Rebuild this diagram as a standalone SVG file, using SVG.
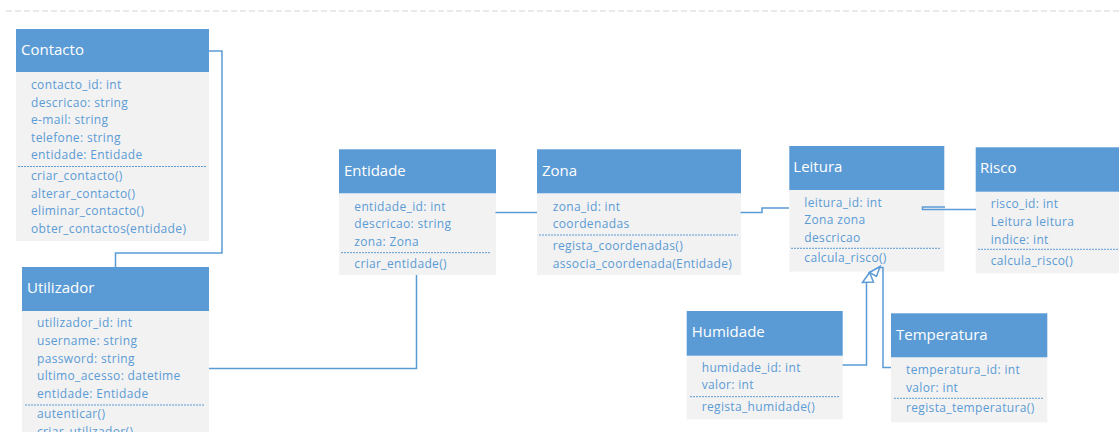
<svg xmlns="http://www.w3.org/2000/svg" width="1119" height="432" viewBox="0 0 1119 432">
  <style>
    .hd { fill: #5b9bd5; }
    .bd { fill: #f2f2f2; }
    .ttl { font-family: "Open Sans", "Noto Sans", sans-serif; font-size: 15px; fill: #ffffff; }
    .tx { font-family: "Open Sans", "Noto Sans", sans-serif; font-size: 12px; letter-spacing: 0.35px; fill: #5b9bd5; }
    .sep { stroke: #5b9bd5; stroke-width: 1; stroke-dasharray: 2 1; fill: none; }
    .cn { stroke: #5b9bd5; stroke-width: 1.5; fill: none; }
    .tri { stroke: #5b9bd5; stroke-width: 1.5; fill: #ffffff; stroke-linejoin: miter; }
  </style>

  <!-- page break line -->
  <line x1="6" y1="11" x2="1119" y2="11" stroke="#e3e3e3" stroke-width="1.5" stroke-dasharray="6 3"/>

  <g id="contacto">
    <rect class="bd" x="16" y="72" width="193" height="169"/>
    <rect class="hd" x="16" y="29" width="193" height="43"/>
    <text class="ttl" x="21" y="54.5">Contacto</text>
    <text class="tx" x="31" y="89.3">contacto_id: int</text>
    <text class="tx" x="31" y="106.7">descricao: string</text>
    <text class="tx" x="31" y="124.2">e-mail: string</text>
    <text class="tx" x="31" y="141.6">telefone: string</text>
    <text class="tx" x="31" y="159.1">entidade: Entidade</text>
    <line class="sep" x1="18" y1="166.5" x2="206" y2="166.5"/>
    <text class="tx" x="31" y="180.3">criar_contacto()</text>
    <text class="tx" x="31" y="197.7">alterar_contacto()</text>
    <text class="tx" x="31" y="215.1">eliminar_contacto()</text>
    <text class="tx" x="31" y="232.5">obter_contactos(entidade)</text>
  </g>

  <g id="utilizador">
    <rect class="bd" x="22" y="311" width="187" height="130"/>
    <rect class="hd" x="22" y="267" width="187" height="44"/>
    <text class="ttl" x="27" y="292.7">Utilizador</text>
    <text class="tx" x="37" y="327.3">utilizador_id: int</text>
    <text class="tx" x="37" y="345">username: string</text>
    <text class="tx" x="37" y="362.6">password: string</text>
    <text class="tx" x="37" y="380.2">ultimo_acesso: datetime</text>
    <text class="tx" x="37" y="397.8">entidade: Entidade</text>
    <line class="sep" x1="25" y1="405" x2="205" y2="405"/>
    <text class="tx" x="37" y="418.4">autenticar()</text>
    <text class="tx" x="37" y="436">criar_utilizador()</text>
  </g>

  <g id="entidade">
    <rect class="bd" x="339" y="193.3" width="157" height="81.7"/>
    <rect class="hd" x="339" y="149.3" width="157" height="44"/>
    <text class="ttl" x="344" y="176">Entidade</text>
    <text class="tx" x="354.3" y="211">entidade_id: int</text>
    <text class="tx" x="354.3" y="228.3">descricao: string</text>
    <text class="tx" x="354.3" y="245.6">zona: Zona</text>
    <line class="sep" x1="341" y1="252.7" x2="491" y2="252.7"/>
    <text class="tx" x="354.3" y="267.7">criar_entidade()</text>
  </g>

  <g id="zona">
    <rect class="bd" x="537" y="193.3" width="204" height="81.7"/>
    <rect class="hd" x="537" y="149.3" width="204" height="44"/>
    <text class="ttl" x="542" y="176">Zona</text>
    <text class="tx" x="552.7" y="211">zona_id: int</text>
    <text class="tx" x="552.7" y="228">coordenadas</text>
    <line class="sep" x1="539" y1="235" x2="738" y2="235"/>
    <text class="tx" x="552.7" y="250.2">regista_coordenadas()</text>
    <text class="tx" x="552.7" y="267.7">associa_coordenada(Entidade)</text>
  </g>

  <g id="leitura">
    <rect class="bd" x="789.3" y="190" width="155" height="81.7"/>
    <rect class="hd" x="789.3" y="146" width="155" height="44"/>
    <text class="ttl" x="793.3" y="172.3">Leitura</text>
    <text class="tx" x="804.3" y="206.7">leitura_id: int</text>
    <text class="tx" x="804.3" y="224.1">Zona zona</text>
    <text class="tx" x="804.3" y="241.6">descricao</text>
    <line class="sep" x1="791" y1="248.3" x2="941" y2="248.3"/>
    <text class="tx" x="804.3" y="262.2">calcula_risco()</text>
  </g>

  <g id="risco">
    <rect class="bd" x="975.7" y="191.7" width="145" height="81.6"/>
    <rect class="hd" x="975.7" y="147.3" width="145" height="44.4"/>
    <text class="ttl" x="980" y="173.3">Risco</text>
    <text class="tx" x="990.7" y="208.3">risco_id: int</text>
    <text class="tx" x="990.7" y="226.2">Leitura leitura</text>
    <text class="tx" x="990.7" y="243.5">indice: int</text>
    <line class="sep" x1="978" y1="249.3" x2="1119" y2="249.3"/>
    <text class="tx" x="990.7" y="264.8">calcula_risco()</text>
  </g>

  <g id="humidade">
    <rect class="bd" x="686.7" y="355.7" width="156" height="63.6"/>
    <rect class="hd" x="686.7" y="311" width="156" height="44.7"/>
    <text class="ttl" x="691.7" y="337.3">Humidade</text>
    <text class="tx" x="701.7" y="371.7">humidade_id: int</text>
    <text class="tx" x="701.7" y="389">valor: int</text>
    <line class="sep" x1="690" y1="396.7" x2="839" y2="396.7"/>
    <text class="tx" x="701.7" y="411">regista_humidade()</text>
  </g>

  <g id="temperatura">
    <rect class="bd" x="891" y="357.3" width="156.3" height="65"/>
    <rect class="hd" x="891" y="313.3" width="156.3" height="44"/>
    <text class="ttl" x="896" y="340">Temperatura</text>
    <text class="tx" x="906" y="374.3">temperatura_id: int</text>
    <text class="tx" x="906" y="391.7">valor: int</text>
    <line class="sep" x1="894" y1="398.3" x2="1043" y2="398.3"/>
    <text class="tx" x="906" y="412.3">regista_temperatura()</text>
  </g>

  <!-- connectors are drawn last so they sit on top of the class boxes -->
  <g id="connectors">
    <!-- Contacto - Utilizador -->
    <path class="cn" d="M209,51 H222 V253 H115.5 V267"/>
    <!-- Utilizador - Entidade -->
    <path class="cn" d="M209,368.5 H416.5 V275"/>
    <!-- Entidade - Zona -->
    <path class="cn" d="M495.5,212.5 H537"/>
    <!-- Zona - Leitura -->
    <path class="cn" d="M740.5,212.5 H762 V208 H789"/>
    <!-- Leitura - Risco -->
    <path class="cn" d="M945,207 H922.5 V209.5 H976"/>
    <!-- Humidade - Leitura (generalization) -->
    <path class="cn" d="M842.5,365 H866.5 V282"/>
    <!-- Temperatura - Leitura (generalization) -->
    <path class="cn" d="M891,367.5 H883 V267.5 H879"/>
    <polygon class="tri" points="869.5,272.5 862.5,282.5 873.5,282"/>
    <polygon class="tri" points="869.5,272.5 880,266.5 876.5,276.5"/>
  </g>
</svg>
